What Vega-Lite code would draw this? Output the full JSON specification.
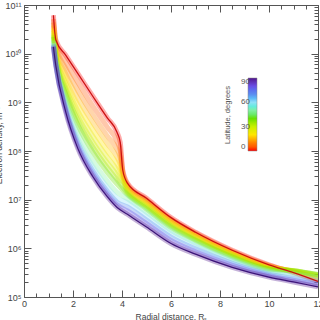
{
  "$schema": "https://vega.github.io/schema/vega-lite/v6.json",
  "width": 294,
  "height": 292,
  "autosize": "none",
  "padding": {"left": 24, "top": 5, "right": 2, "bottom": 23},
  "background": "white",
  "config": {
    "font": "Liberation Sans",
    "view": {"stroke": null},
    "axis": {"grid": false, "labelColor": "#444", "domainColor": "#555", "tickColor": "#555", "titleColor": "#444", "labelFontSize": 9, "titleFontSize": 8.5, "titleFontWeight": "normal", "domainWidth": 1, "tickWidth": 1}
  },
  "data": {"values": [
    {"lat":0,"r":1.2,"n":6.17e10},{"lat":0,"r":1.3,"n":1.91e10},{"lat":0,"r":1.7,"n":9.33e9},{"lat":0,"r":2.2,"n":3.89e9},{"lat":0,"r":2.8,"n":1.35e9},{"lat":0,"r":3.4,"n":4.79e8},{"lat":0,"r":3.8,"n":2.40e8},{"lat":0,"r":3.93,"n":1.48e8},{"lat":0,"r":4.03,"n":4.07e7},{"lat":0,"r":4.22,"n":2.19e7},{"lat":0,"r":5,"n":1.07e7},{"lat":0,"r":6,"n":4.27e6},{"lat":0,"r":7,"n":2.14e6},{"lat":0,"r":8.5,"n":9.12e5},{"lat":0,"r":10,"n":4.57e5},{"lat":0,"r":11,"n":3.16e5},{"lat":0,"r":12,"n":2.09e5},
    {"lat":5,"r":1.2,"n":5.13e10},{"lat":5,"r":1.3,"n":1.66e10},{"lat":5,"r":1.7,"n":6.76e9},{"lat":5,"r":2.2,"n":2.57e9},{"lat":5,"r":2.8,"n":8.51e8},{"lat":5,"r":3.4,"n":3.09e8},{"lat":5,"r":3.8,"n":1.58e8},{"lat":5,"r":3.93,"n":1.02e8},{"lat":5,"r":4.03,"n":3.72e7},{"lat":5,"r":4.22,"n":2.04e7},{"lat":5,"r":5,"n":1.00e7},{"lat":5,"r":6,"n":3.98e6},{"lat":5,"r":7,"n":2.04e6},{"lat":5,"r":8.5,"n":8.71e5},{"lat":5,"r":10,"n":4.47e5},{"lat":5,"r":11,"n":3.24e5},{"lat":5,"r":12,"n":2.24e5},
    {"lat":10,"r":1.2,"n":4.37e10},{"lat":10,"r":1.3,"n":1.45e10},{"lat":10,"r":1.7,"n":5.01e9},{"lat":10,"r":2.2,"n":1.74e9},{"lat":10,"r":2.8,"n":5.62e8},{"lat":10,"r":3.4,"n":2.04e8},{"lat":10,"r":3.8,"n":1.07e8},{"lat":10,"r":3.93,"n":7.24e7},{"lat":10,"r":4.03,"n":3.39e7},{"lat":10,"r":4.22,"n":1.91e7},{"lat":10,"r":5,"n":9.33e6},{"lat":10,"r":6,"n":3.80e6},{"lat":10,"r":7,"n":1.95e6},{"lat":10,"r":8.5,"n":8.32e5},{"lat":10,"r":10,"n":4.37e5},{"lat":10,"r":11,"n":3.31e5},{"lat":10,"r":12,"n":2.40e5},
    {"lat":15,"r":1.2,"n":3.80e10},{"lat":15,"r":1.3,"n":1.29e10},{"lat":15,"r":1.7,"n":3.89e9},{"lat":15,"r":2.2,"n":1.20e9},{"lat":15,"r":2.8,"n":3.89e8},{"lat":15,"r":3.4,"n":1.41e8},{"lat":15,"r":3.8,"n":7.41e7},{"lat":15,"r":3.93,"n":5.25e7},{"lat":15,"r":4.03,"n":3.09e7},{"lat":15,"r":4.22,"n":1.78e7},{"lat":15,"r":5,"n":8.91e6},{"lat":15,"r":6,"n":3.63e6},{"lat":15,"r":7,"n":1.86e6},{"lat":15,"r":8.5,"n":8.13e5},{"lat":15,"r":10,"n":4.27e5},{"lat":15,"r":11,"n":3.39e5},{"lat":15,"r":12,"n":2.51e5},
    {"lat":20,"r":1.2,"n":3.31e10},{"lat":20,"r":1.3,"n":1.15e10},{"lat":20,"r":1.7,"n":3.02e9},{"lat":20,"r":2.2,"n":8.71e8},{"lat":20,"r":2.8,"n":2.75e8},{"lat":20,"r":3.4,"n":1.00e8},{"lat":20,"r":3.8,"n":5.37e7},{"lat":20,"r":3.93,"n":3.98e7},{"lat":20,"r":4.03,"n":2.88e7},{"lat":20,"r":4.22,"n":1.70e7},{"lat":20,"r":5,"n":8.32e6},{"lat":20,"r":6,"n":3.47e6},{"lat":20,"r":7,"n":1.78e6},{"lat":20,"r":8.5,"n":7.76e5},{"lat":20,"r":10,"n":4.17e5},{"lat":20,"r":11,"n":3.39e5},{"lat":20,"r":12,"n":2.63e5},
    {"lat":25,"r":1.2,"n":2.95e10},{"lat":25,"r":1.3,"n":1.05e10},{"lat":25,"r":1.7,"n":2.45e9},{"lat":25,"r":2.2,"n":6.61e8},{"lat":25,"r":2.8,"n":2.04e8},{"lat":25,"r":3.4,"n":7.41e7},{"lat":25,"r":3.8,"n":4.07e7},{"lat":25,"r":3.93,"n":3.09e7},{"lat":25,"r":4.03,"n":2.63e7},{"lat":25,"r":4.22,"n":1.55e7},{"lat":25,"r":5,"n":7.76e6},{"lat":25,"r":6,"n":3.24e6},{"lat":25,"r":7,"n":1.70e6},{"lat":25,"r":8.5,"n":7.59e5},{"lat":25,"r":10,"n":3.98e5},{"lat":25,"r":11,"n":3.47e5},{"lat":25,"r":12,"n":2.75e5},
    {"lat":30,"r":1.2,"n":2.63e10},{"lat":30,"r":1.3,"n":9.55e9},{"lat":30,"r":1.7,"n":2.04e9},{"lat":30,"r":2.2,"n":5.13e8},{"lat":30,"r":2.8,"n":1.55e8},{"lat":30,"r":3.4,"n":5.75e7},{"lat":30,"r":3.8,"n":3.16e7},{"lat":30,"r":3.93,"n":2.45e7},{"lat":30,"r":4.03,"n":2.34e7},{"lat":30,"r":4.22,"n":1.45e7},{"lat":30,"r":5,"n":7.41e6},{"lat":30,"r":6,"n":3.02e6},{"lat":30,"r":7,"n":1.58e6},{"lat":30,"r":8.5,"n":7.24e5},{"lat":30,"r":10,"n":3.89e5},{"lat":30,"r":11,"n":3.47e5},{"lat":30,"r":12,"n":2.82e5},
    {"lat":35,"r":1.2,"n":2.40e10},{"lat":35,"r":1.3,"n":8.91e9},{"lat":35,"r":1.7,"n":1.74e9},{"lat":35,"r":2.2,"n":4.17e8},{"lat":35,"r":2.8,"n":1.23e8},{"lat":35,"r":3.4,"n":4.57e7},{"lat":35,"r":3.8,"n":2.57e7},{"lat":35,"r":4.22,"n":1.35e7},{"lat":35,"r":5,"n":6.92e6},{"lat":35,"r":6,"n":2.88e6},{"lat":35,"r":7,"n":1.51e6},{"lat":35,"r":8.5,"n":6.92e5},{"lat":35,"r":10,"n":3.80e5},{"lat":35,"r":11,"n":3.47e5},{"lat":35,"r":12,"n":2.88e5},
    {"lat":40,"r":1.2,"n":2.19e10},{"lat":40,"r":1.3,"n":8.13e9},{"lat":40,"r":1.7,"n":1.48e9},{"lat":40,"r":2.2,"n":3.39e8},{"lat":40,"r":2.8,"n":9.77e7},{"lat":40,"r":3.4,"n":3.63e7},{"lat":40,"r":3.8,"n":2.09e7},{"lat":40,"r":4.22,"n":1.26e7},{"lat":40,"r":5,"n":6.46e6},{"lat":40,"r":6,"n":2.69e6},{"lat":40,"r":7,"n":1.45e6},{"lat":40,"r":8.5,"n":6.61e5},{"lat":40,"r":10,"n":3.72e5},{"lat":40,"r":11,"n":3.47e5},{"lat":40,"r":12,"n":2.88e5},
    {"lat":50,"r":1.2,"n":1.86e10},{"lat":50,"r":1.3,"n":7.24e9},{"lat":50,"r":1.7,"n":1.10e9},{"lat":50,"r":2.2,"n":2.29e8},{"lat":50,"r":2.8,"n":6.46e7},{"lat":50,"r":3.4,"n":2.40e7},{"lat":50,"r":3.8,"n":1.41e7},{"lat":50,"r":4.22,"n":1.05e7},{"lat":50,"r":5,"n":5.50e6},{"lat":50,"r":6,"n":2.34e6},{"lat":50,"r":7,"n":1.29e6},{"lat":50,"r":8.5,"n":6.03e5},{"lat":50,"r":10,"n":3.47e5},{"lat":50,"r":11,"n":3.02e5},{"lat":50,"r":12,"n":2.51e5},
    {"lat":60,"r":1.2,"n":1.66e10},{"lat":60,"r":1.3,"n":6.46e9},{"lat":60,"r":1.7,"n":8.91e8},{"lat":60,"r":2.2,"n":1.74e8},{"lat":60,"r":2.8,"n":4.79e7},{"lat":60,"r":3.4,"n":1.78e7},{"lat":60,"r":3.8,"n":1.07e7},{"lat":60,"r":4.22,"n":8.71e6},{"lat":60,"r":5,"n":4.57e6},{"lat":60,"r":6,"n":2.00e6},{"lat":60,"r":7,"n":1.12e6},{"lat":60,"r":8.5,"n":5.50e5},{"lat":60,"r":10,"n":3.24e5},{"lat":60,"r":11,"n":2.69e5},{"lat":60,"r":12,"n":2.19e5},
    {"lat":70,"r":1.2,"n":1.55e10},{"lat":70,"r":1.3,"n":6.17e9},{"lat":70,"r":1.7,"n":7.76e8},{"lat":70,"r":2.2,"n":1.45e8},{"lat":70,"r":2.8,"n":3.98e7},{"lat":70,"r":3.4,"n":1.48e7},{"lat":70,"r":3.8,"n":8.91e6},{"lat":70,"r":4.22,"n":7.08e6},{"lat":70,"r":5,"n":3.80e6},{"lat":70,"r":6,"n":1.70e6},{"lat":70,"r":7,"n":9.77e5},{"lat":70,"r":8.5,"n":4.90e5},{"lat":70,"r":10,"n":2.95e5},{"lat":70,"r":11,"n":2.40e5},{"lat":70,"r":12,"n":1.95e5},
    {"lat":80,"r":1.2,"n":1.45e10},{"lat":80,"r":1.3,"n":5.89e9},{"lat":80,"r":1.7,"n":7.08e8},{"lat":80,"r":2.2,"n":1.26e8},{"lat":80,"r":2.8,"n":3.39e7},{"lat":80,"r":3.4,"n":1.29e7},{"lat":80,"r":3.8,"n":7.76e6},{"lat":80,"r":4.22,"n":5.89e6},{"lat":80,"r":5,"n":3.24e6},{"lat":80,"r":6,"n":1.45e6},{"lat":80,"r":7,"n":8.51e5},{"lat":80,"r":8.5,"n":4.47e5},{"lat":80,"r":10,"n":2.75e5},{"lat":80,"r":11,"n":2.19e5},{"lat":80,"r":12,"n":1.78e5},
    {"lat":90,"r":1.2,"n":1.38e10},{"lat":90,"r":1.3,"n":5.62e9},{"lat":90,"r":1.7,"n":6.46e8},{"lat":90,"r":2.2,"n":1.12e8},{"lat":90,"r":2.8,"n":3.02e7},{"lat":90,"r":3.4,"n":1.15e7},{"lat":90,"r":3.8,"n":6.92e6},{"lat":90,"r":4.22,"n":5.01e6},{"lat":90,"r":5,"n":2.75e6},{"lat":90,"r":6,"n":1.26e6},{"lat":90,"r":7,"n":7.59e5},{"lat":90,"r":8.5,"n":4.07e5},{"lat":90,"r":10,"n":2.57e5},{"lat":90,"r":11,"n":2.04e5},{"lat":90,"r":12,"n":1.62e5}
  ]},
  "layer": [
    {
      "mark": {"type": "line", "strokeWidth": 5, "strokeOpacity": 0.33, "interpolate": "monotone", "clip": true},
      "encoding": {
        "x": {"field": "r", "type": "quantitative", "scale": {"domain": [0, 12], "nice": false},
          "axis": {"orient": "bottom", "title": "Radial distance, Rₛ", "values": [0,0.5,1,1.5,2,2.5,3,3.5,4,4.5,5,5.5,6,6.5,7,7.5,8,8.5,9,9.5,10,10.5,11,11.5,12],
            "labelExpr": "datum.value % 2 === 0 ? format(datum.value, 'd') : ''",
            "tickSize": {"condition": {"test": "datum.value % 2 === 0", "value": -7}, "value": -4},
            "labelPadding": 9, "titlePadding": 4, "labelFlush": false}},
        "y": {"field": "n", "type": "quantitative", "scale": {"type": "log", "domain": [1e5, 1e11], "nice": false},
          "axis": {"orient": "left", "title": "Electron density, m⁻³", "titleFontSize": 8.5, "titleX": -21, "titleY": 140,
            "values": [1e5,2e5,3e5,4e5,5e5,6e5,7e5,8e5,9e5,1e6,2e6,3e6,4e6,5e6,6e6,7e6,8e6,9e6,1e7,2e7,3e7,4e7,5e7,6e7,7e7,8e7,9e7,1e8,2e8,3e8,4e8,5e8,6e8,7e8,8e8,9e8,1e9,2e9,3e9,4e9,5e9,6e9,7e9,8e9,9e9,1e10,2e10,3e10,4e10,5e10,6e10,7e10,8e10,9e10,1e11],
            "labelExpr": "abs(datum.value/pow(10,round(log(datum.value)/LN10))-1)<1e-6 ? '10' + ['⁰','¹','²','³','⁴','⁵','⁶','⁷','⁸','⁹','¹⁰','¹¹'][round(log(datum.value)/LN10)] : ''",
            "tickSize": {"condition": {"test": "abs(datum.value/pow(10,round(log(datum.value)/LN10))-1)<1e-6", "value": -7}, "value": -4},
            "labelPadding": 10, "labelFlush": false}},
        "color": {"field": "lat", "type": "quantitative",
          "scale": {"domain": [0,10,20,30,40,50,60,70,80,90], "range": ["#ff0000","#ff7f00","#ffe600","#c8f000","#66e000","#80f0a0","#90e0f8","#5b8cf0","#6a4ee6","#50148c"]},
          "legend": {"orient": "none", "legendX": 200, "legendY": 73, "direction": "vertical", "gradientLength": 73, "gradientThickness": 9,
            "values": [0, 30, 60, 90], "title": "Latitude, degrees", "titleOrient": "left", "titleFontSize": 7.5, "titleFontWeight": "normal", "titleColor": "#555",
            "labelFontSize": 8, "labelColor": "#555", "labelAlign": "right", "labelOffset": -16, "titlePadding": 16, "gradientStrokeColor": "#888", "gradientStrokeWidth": 0.5}},
        "detail": {"field": "lat"},
        "order": {"field": "r"}
      }
    },
    {
      "transform": [{"filter": "datum.lat === 0"}],
      "mark": {"type": "line", "stroke": "#cc1010", "strokeWidth": 1.3, "interpolate": "monotone", "clip": true},
      "encoding": {
        "x": {"field": "r", "type": "quantitative", "axis": null},
        "y": {"field": "n", "type": "quantitative", "scale": {"type": "log"}, "axis": null},
        "order": {"field": "r"}
      }
    },
    {
      "transform": [{"filter": "datum.lat === 90"}],
      "mark": {"type": "line", "stroke": "#3c1478", "strokeWidth": 1.2, "interpolate": "monotone", "clip": true},
      "encoding": {
        "x": {"field": "r", "type": "quantitative", "axis": null},
        "y": {"field": "n", "type": "quantitative", "scale": {"type": "log"}, "axis": null},
        "order": {"field": "r"}
      }
    },
    {
      "mark": {"type": "point", "opacity": 0},
      "encoding": {
        "x": {"field": "r", "type": "quantitative",
          "axis": {"orient": "top", "title": null, "labels": false, "values": [0,0.5,1,1.5,2,2.5,3,3.5,4,4.5,5,5.5,6,6.5,7,7.5,8,8.5,9,9.5,10,10.5,11,11.5,12],
            "tickSize": {"condition": {"test": "datum.value % 2 === 0", "value": -7}, "value": -4}}},
        "y": {"field": "n", "type": "quantitative", "scale": {"type": "log"},
          "axis": {"orient": "right", "title": null, "labels": false,
            "values": [1e5,2e5,3e5,4e5,5e5,6e5,7e5,8e5,9e5,1e6,2e6,3e6,4e6,5e6,6e6,7e6,8e6,9e6,1e7,2e7,3e7,4e7,5e7,6e7,7e7,8e7,9e7,1e8,2e8,3e8,4e8,5e8,6e8,7e8,8e8,9e8,1e9,2e9,3e9,4e9,5e9,6e9,7e9,8e9,9e9,1e10,2e10,3e10,4e10,5e10,6e10,7e10,8e10,9e10,1e11],
            "tickSize": {"condition": {"test": "abs(datum.value/pow(10,round(log(datum.value)/LN10))-1)<1e-6", "value": -7}, "value": -4}}}
      }
    }
  ],
  "resolve": {"axis": {"x": "independent", "y": "independent"}}
}
